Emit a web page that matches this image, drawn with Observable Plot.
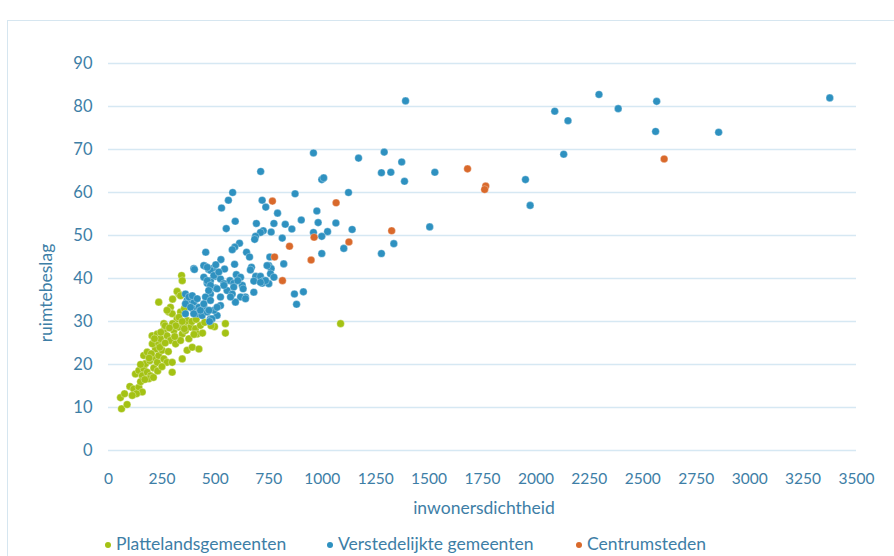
<!DOCTYPE html>
<html><head><meta charset="utf-8">
<script src="https://cdn.jsdelivr.net/npm/d3@7"></script>
<script src="https://cdn.jsdelivr.net/npm/@observablehq/plot@0.6"></script>
<style>
body{margin:0;background:#fff;font-family:Lato,"Open Sans",sans-serif;}
#wrap{position:relative;width:894px;height:556px;overflow:hidden;}
#frame{position:absolute;left:7px;top:20px;width:1000px;height:700px;border:1px solid #d6e6f0;}
#chart{position:absolute;left:0;top:0;}
.lab{position:absolute;color:#3d7ea6;font-size:17.5px;white-space:nowrap;}
#legend{position:absolute;top:533px;left:0;width:894px;height:22px;font-size:17.5px;color:#3d7ea6;}
#legend span{position:absolute;top:0;}
#legend i{position:absolute;top:9px;width:6px;height:6px;border-radius:50%;}
</style></head>
<body><div id="wrap"><div id="frame"></div><div id="chart"></div>
<div class="lab" style="left:484px;top:507px;transform:translate(-50%,-50%);">inwonersdichtheid</div>
<div class="lab" style="left:45px;top:293px;transform:translate(-50%,-50%) rotate(-90deg);">ruimtebeslag</div>
<div id="legend"></div></div>
<script>
const seriesNames = ["Plattelandsgemeenten","Verstedelijkte gemeenten","Centrumsteden"];
const seriesColors = ["#a4c214","#2e91c0","#d9692b"];
const xTicks = d3.range(0, 3501, 250);
const yTicks = d3.range(0, 91, 10);

const platteland = [
[61,9.7],[87,10.7],[56,12.3],[75,13.2],[100,14.9],[118,14.3],[142,14.7],[158,13.6],[131,13.2],[111,12.8],
[126,17.8],[142,18.6],[165,19],[158,17.4],[181,18.2],[197,17.4],[189,16.7],[212,19.2],[173,20.2],[193,20.9],
[165,22.1],[181,22.9],[212,21.7],[228,20.5],[235,22.1],[251,23.3],[220,23.6],[205,24.8],[235,24.8],[259,21.3],
[274,20.5],[298,20.5],[298,18.2],[345,21.3],[368,23.3],[392,24],[423,23.6],[204,26.7],[228,27.1],[243,26],
[259,27.9],[274,26.7],[290,25.6],[306,27.9],[329,28.7],[345,27.1],[314,24.8],[360,27.9],[384,28.7],[407,28.3],
[430,29.1],[415,27.1],[376,26],[337,25.6],[235,34.5],[290,33.3],[282,32.2],[259,29.5],[298,31.8],[321,30.6],
[337,32.2],[329,36.4],[353,29.5],[368,30.2],[496,28.8],[547,29.5],[547,27.3],[342,40.7],[345,39.5],[321,37],
[337,36],[274,32.6],[1086,29.5],[150,16],[170,16.5],[210,17],[230,18.5],[250,19.5],[200,22.5],[240,24],
[265,25],[280,23],[300,29.5],[315,29],[330,31],[355,33],[300,35.2],[390,30],[410,30.5],[450,29.8],[480,29],
[400,27],[440,27.3],[190,21.5],[215,26],[265,29],[310,26.5],[345,30],[355,28.3],[150,20],[245,27.5],[285,28.5]
];

const verstedelijkt = [
[3375,82],[2855,74],[2560,74.2],[2565,81.2],[2385,79.5],[2295,82.8],[2150,76.7],[2088,78.9],[2130,68.9],[1951,63],
[1973,57],[1527,64.7],[1503,52],[1390,81.3],[1385,62.6],[1372,67.1],[1321,64.7],[1277,64.6],[1290,69.4],[1335,48.1],
[1277,45.8],[1170,68],[1123,60],[1140,51.4],[1101,47],[1064,52.9],[1025,50.9],[998,63],[1007,63.4],[959,69.2],
[975,55.7],[981,53],[959,50.7],[998,49.8],[998,45.8],[873,59.7],[902,53.6],[858,51.5],[870,36.4],[912,36.9],[880,34],
[712,64.9],[581,60],[561,58.2],[529,56.4],[719,58.2],[736,56.6],[791,55.2],[593,53.3],[551,51.6],[692,52.8],
[774,52.8],[827,52.6],[724,51.1],[711,50.7],[688,49.8],[684,49.1],[761,50.8],[813,49.4],[755,45],[820,43.4],
[613,48.2],[591,47.3],[579,46.7],[646,46.1],[660,45],[455,46.1],[526,44.4],[590,43.3],[451,42.9],[469,42.1],
[490,42.4],[543,42.2],[669,42.6],[664,42],[750,43],[761,42.3],[758,41.1],[689,40.5],[711,40.5],[727,39.5],
[680,39.4],[719,38.9],[750,38.8],[598,40.9],[618,40.3],[568,39.5],[586,38.9],[626,38.4],[586,38],[499,40.5],
[524,39.9],[477,39.5],[446,40.3],[462,38.9],[501,37.8],[477,36.4],[454,35.7],[540,38.8],[555,37.2],[579,36.4],
[524,35.7],[641,35.7],[680,36.8],[502,43.2],[399,42.3],[477,41.9],[493,40.7],[516,41.5],[742,43],[735,39.5],
[711,39.1],[774,40.3],[605,39.5],[630,37.6],[618,35.7],[594,34.5],[641,35.3],[462,39.5],[477,38.4],[469,37.2],
[508,37.6],[540,38.4],[571,35.7],[360,36.4],[384,35.7],[368,34.9],[399,34.5],[423,33.3],[446,33.3],[392,33],
[360,31.8],[415,31.8],[438,31.4],[477,30.6],[508,31.4],[462,32.2],[493,32.6],[524,33.7],[376,35.7],[392,36],
[415,35.3],[360,34.1],[384,33.3],[399,31.8],[430,32.6],[446,34.1],[477,34.9],[470,32.6],[508,33.3],[484,30.6],
[473,30],[402,42.1],[446,43],[462,42.6]
];

const centrumsteden = [
[2600,67.8],[1765,61.5],[1760,60.7],[1680,65.5],[1325,51.1],[1125,48.5],[1065,57.6],[962,49.6],[948,44.3],
[847,47.5],[767,58],[777,45],[814,39.5]
];

const rows = [];
[platteland, verstedelijkt, centrumsteden].forEach((arr, i) => arr.forEach(([x, y]) => rows.push({x, y, s: seriesNames[i]})));

const chart = Plot.plot({
  width: 894, height: 528,
  marginLeft: 108, marginRight: 38, marginTop: 63, marginBottom: 78,
  style: {fontFamily: "Lato, 'Open Sans', sans-serif", fontSize: "15px", color: "#3d7ea6", background: "transparent"},
  x: {domain: [0, 3500]},
  y: {domain: [0, 90]},
  color: {domain: seriesNames, range: seriesColors},
  marks: [
    Plot.gridY(yTicks, {stroke: "#d6e8f3", strokeOpacity: 1, strokeWidth: 1.6}),
    Plot.axisY(yTicks, {tickSize: 0, tickPadding: 16, label: null, fontSize: 16.5, fill: "#3d7ea6", tickFormat: d => String(d)}),
    Plot.axisX(xTicks, {tickSize: 0, tickPadding: 22, label: null, fontSize: 15.5, fill: "#3d7ea6", tickFormat: d => String(d)}),
    Plot.dot(rows, {x: "x", y: "y", fill: "s", r: 3.8, stroke: "white", strokeWidth: 0.5, strokeOpacity: 0.6})
  ]
});
document.getElementById("chart").appendChild(chart);

const legend = document.getElementById("legend");
const pos = [[105, 116], [327, 338], [576, 587]];
seriesNames.forEach((n, i) => {
  const dot = document.createElement("i");
  dot.style.left = pos[i][0] + "px"; dot.style.background = seriesColors[i];
  legend.appendChild(dot);
  const t = document.createElement("span");
  t.style.left = pos[i][1] + "px"; t.textContent = n;
  legend.appendChild(t);
});
</script></body></html>
